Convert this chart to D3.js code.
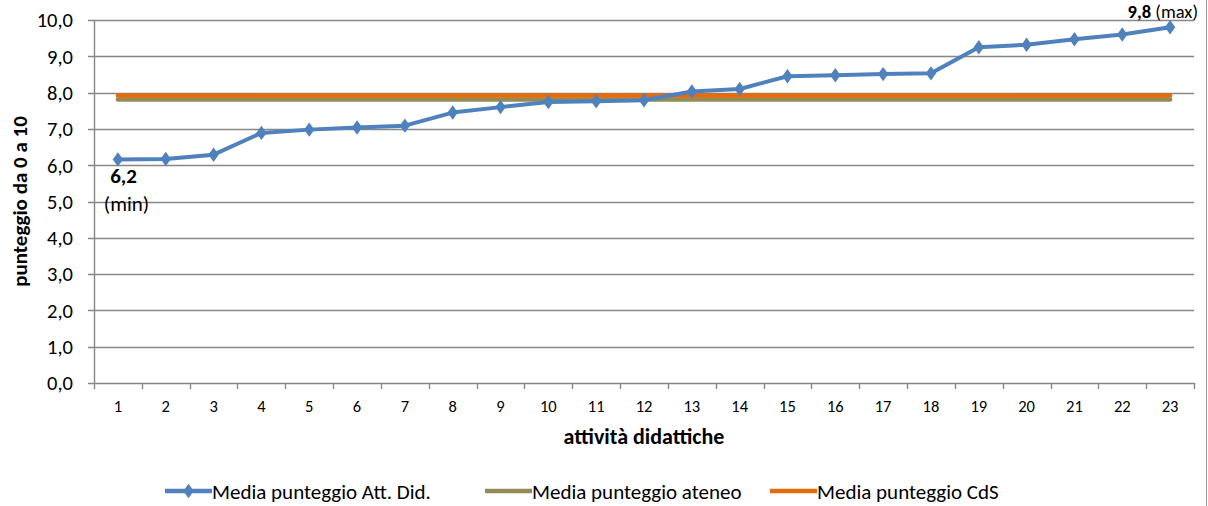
<!DOCTYPE html>
<html>
<head>
<meta charset="utf-8">
<script src="https://cdn.jsdelivr.net/npm/d3@7/dist/d3.min.js"></script>
<style>
body { margin: 0; background: #fff; }
svg { display: block; font-family: Carlito, Lato, "Open Sans", sans-serif; }
</style>
</head>
<body>
<svg id="chart" width="1208" height="506"></svg>
<script>
// dati
var attivita = d3.range(1, 24);
var mediaAttDid = [6.16, 6.17, 6.29, 6.89, 6.98, 7.04, 7.09, 7.45, 7.60, 7.74, 7.76, 7.79, 8.03, 8.10, 8.45, 8.48, 8.51, 8.53, 9.25, 9.32, 9.47, 9.60, 9.80];
var mediaAteneo = 7.81;
var mediaCdS = 7.92;
var yTicks = [0, 1, 2, 3, 4, 5, 6, 7, 8, 9, 10];
var legenda = ["Media punteggio Att. Did.", "Media punteggio ateneo", "Media punteggio CdS"];
var colori = ["#4f81bd", "#948a54", "#e46c0a"];

var svg = d3.select('#chart');
var mLeft = 94, mRight = 1194, mTop = 20, mBottom = 383;

var x = d3.scaleBand().domain(attivita).range([mLeft, mRight]);
var y = d3.scaleLinear().domain([0, 10]).range([mBottom, mTop]);
var fmt = function (d) { return d3.format('.1f')(d).replace('.', ','); };

// griglia orizzontale
svg.append('g').selectAll('line').data(yTicks).enter().append('line')
    .attr('x1', mLeft - 6).attr('x2', mRight)
    .attr('y1', function (d) { return Math.round(y(d)) + 0.5; })
    .attr('y2', function (d) { return Math.round(y(d)) + 0.5; })
    .attr('stroke', '#878787').attr('stroke-width', 1.4);

// asse y
svg.append('line').attr('x1', mLeft + 0.5).attr('x2', mLeft + 0.5).attr('y1', mTop).attr('y2', mBottom)
    .attr('stroke', '#878787').attr('stroke-width', 1.4);
svg.append('g').selectAll('text').data(yTicks).enter().append('text')
    .attr('x', 73).attr('y', function (d) { return y(d); })
    .attr('dy', '0.36em').attr('text-anchor', 'end')
    .attr('font-size', 20.5).attr('fill', '#000').text(fmt);

// tacche asse x
var bordi = attivita.map(function (d) { return x(d); }).concat([mRight]);
svg.append('g').selectAll('line').data(bordi).enter().append('line')
    .attr('x1', function (d) { return Math.round(d) + 0.5; })
    .attr('x2', function (d) { return Math.round(d) + 0.5; })
    .attr('y1', mBottom).attr('y2', mBottom + 6)
    .attr('stroke', '#878787').attr('stroke-width', 1.4);
svg.append('g').selectAll('text').data(attivita).enter().append('text')
    .attr('x', function (d) { return x(d) + x.bandwidth() / 2; })
    .attr('y', 406).attr('dy', '0.36em').attr('text-anchor', 'middle')
    .attr('font-size', 16.5).attr('fill', '#000').text(function (d) { return d; });

// titoli assi
svg.append('text').attr('x', (mLeft + mRight) / 2).attr('y', 444)
    .attr('text-anchor', 'middle').attr('font-size', 22).attr('font-weight', 'bold')
    .text('attività didattiche');
svg.append('text').attr('transform', 'translate(27,' + ((mTop + mBottom) / 2) + ') rotate(-90)')
    .attr('text-anchor', 'middle').attr('font-size', 21).attr('font-weight', 'bold')
    .text('punteggio da 0 a 10');

// bordo destro
svg.append('line').attr('x1', 1206.5).attr('x2', 1206.5).attr('y1', 0).attr('y2', 506)
    .attr('stroke', '#9a9a9a').attr('stroke-width', 1);

var cx = function (d) { return x(d) + x.bandwidth() / 2; };

// linee di riferimento
[[mediaAteneo, colori[1]], [mediaCdS, colori[2]]].forEach(function (r) {
    svg.append('line')
        .attr('x1', cx(attivita[0])).attr('x2', cx(attivita[attivita.length - 1]))
        .attr('y1', y(r[0])).attr('y2', y(r[0]))
        .attr('stroke', r[1]).attr('stroke-width', 4.5).attr('stroke-linecap', 'round');
});

// serie attività
var line = d3.line().x(function (d, i) { return cx(attivita[i]); }).y(function (d) { return y(d); });
svg.append('path').datum(mediaAttDid).attr('d', line)
    .attr('fill', 'none').attr('stroke', colori[0]).attr('stroke-width', 4).attr('stroke-linejoin', 'round');
var diamond = d3.symbol().type(d3.symbolDiamond).size(60);
svg.append('g').selectAll('path').data(mediaAttDid).enter().append('path')
    .attr('d', diamond)
    .attr('transform', function (d, i) { return 'translate(' + cx(attivita[i]) + ',' + y(d) + ') scale(1.25,1)'; })
    .attr('fill', colori[0]);

// etichette min / max
var iMin = 0, iMax = mediaAttDid.length - 1;
svg.append('text').attr('x', 123.5).attr('y', 183)
    .attr('text-anchor', 'middle').attr('font-size', 21).attr('font-weight', 'bold')
    .text(fmt(mediaAttDid[iMin]));
svg.append('text').attr('x', 126.5).attr('y', 211)
    .attr('text-anchor', 'middle').attr('font-size', 21).text('(min)');
var maxTxt = svg.append('text').attr('x', 1198).attr('y', 18).attr('text-anchor', 'end').attr('font-size', 18.5);
maxTxt.append('tspan').attr('font-weight', 'bold').text(fmt(mediaAttDid[iMax]));
maxTxt.append('tspan').text(' (max)');

// legenda
var legX = [165, 485, 770];
var leg = svg.append('g').selectAll('g').data(legenda).enter().append('g')
    .attr('transform', function (d, i) { return 'translate(' + legX[i] + ',491)'; });
leg.append('line').attr('x1', 0).attr('x2', 47).attr('y1', 0).attr('y2', 0)
    .attr('stroke', function (d, i) { return colori[i]; }).attr('stroke-width', 4.5);
leg.filter(function (d, i) { return i === 0; }).append('path')
    .attr('d', diamond).attr('transform', 'translate(23.5,0) scale(1.25,1)').attr('fill', colori[0]);
leg.append('text').attr('x', 47).attr('dy', '0.36em').attr('font-size', 21).text(function (d) { return d; });
</script>
</body>
</html>
